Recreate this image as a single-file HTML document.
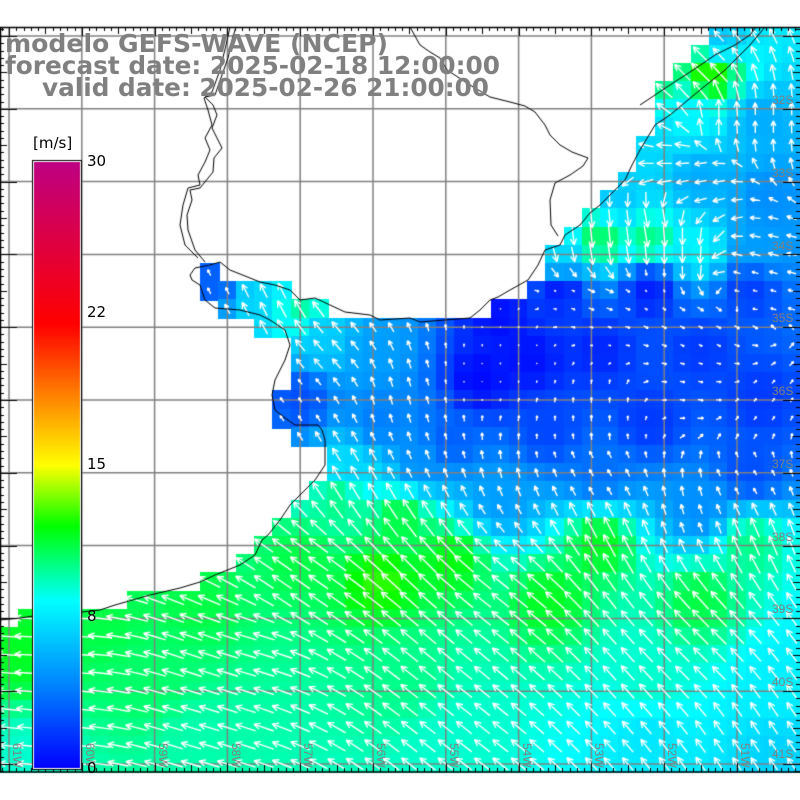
<!DOCTYPE html>
<html><head><meta charset="utf-8"><style>
html,body{margin:0;padding:0;background:#fff;}
#wrap{position:relative;width:800px;height:800px;overflow:hidden;}
canvas,svg{position:absolute;left:0;top:0;}
</style></head><body><div id="wrap">
<canvas id="c" width="800" height="800"></canvas>
<svg width="800" height="800" xmlns="http://www.w3.org/2000/svg" style="font-family:'Liberation Sans',sans-serif">
<g fill="#808080" font-size="12">
<text x="772" y="104">32S</text><text x="772" y="177">33S</text><text x="772" y="250">34S</text>
<text x="772" y="322">35S</text><text x="772" y="395">36S</text><text x="772" y="468">37S</text>
<text x="772" y="541">38S</text><text x="772" y="613">39S</text><text x="772" y="686">40S</text>
<text x="772" y="758">41S</text>
<text transform="translate(13,743) rotate(90)">61W</text>
<text transform="translate(86,743) rotate(90)">60W</text>
<text transform="translate(159,743) rotate(90)">59W</text>
<text transform="translate(232,743) rotate(90)">58W</text>
<text transform="translate(304,743) rotate(90)">57W</text>
<text transform="translate(377,743) rotate(90)">56W</text>
<text transform="translate(450,743) rotate(90)">55W</text>
<text transform="translate(523,743) rotate(90)">54W</text>
<text transform="translate(595,743) rotate(90)">53W</text>
<text transform="translate(668,743) rotate(90)">52W</text>
<text transform="translate(741,743) rotate(90)">51W</text>
</g>
<g fill="#808080" font-weight="bold" font-size="25" style="font-family:'DejaVu Sans','Liberation Sans',sans-serif">
<text x="5" y="52" textLength="383" lengthAdjust="spacingAndGlyphs">modelo GEFS-WAVE (NCEP)</text>
<text x="5" y="74" textLength="495" lengthAdjust="spacingAndGlyphs">forecast date: 2025-02-18 12:00:00</text>
<text x="42" y="96" textLength="447" lengthAdjust="spacingAndGlyphs">valid date: 2025-02-26 21:00:00</text>
</g>
<g fill="#000" font-size="15" style="font-family:'DejaVu Sans','Liberation Sans',sans-serif">
<text x="33" y="148">[m/s]</text>
<text x="87" y="166">30</text><text x="87" y="317">22</text><text x="87" y="469">15</text>
<text x="87" y="621">8</text><text x="87" y="773">0</text>
</g>
</svg>
</div>
<script>
const cv=document.getElementById('c'),g=cv.getContext('2d');
g.fillStyle='#fff';g.fillRect(0,0,800,800);
const stops=[[0,0,0,255],[4,0,128,255],[8.3,0,255,255],[12,0,255,0],[15,255,255,0],[18.5,255,128,0],[22,255,0,0],[30,190,0,130]];
function cmap(s){if(s<=0)return[0,0,255];for(let i=1;i<stops.length;i++){if(s<=stops[i][0]){const a=stops[i-1],b=stops[i],t=(s-a[0])/(b[0]-a[0]);return[0,1,2].map(k=>Math.round(a[k+1]+(b[k+1]-a[k+1])*t));}}return[190,0,130];}
const SP=[[720,40,6.5],[710,75,12.5],[660,80,10],[690,110,8],[650,140,7],[760,120,5.5],[770,200,4.5],[700,180,5.5],[620,200,6.5],[600,240,10.5],[650,240,10],[700,250,8],[760,250,5],[560,260,7],
[560,290,1],[650,290,1],[750,290,2],[500,320,0.5],[530,360,0.5],[480,380,0.3],[600,350,1.2],[700,350,1.8],[760,400,1.8],[650,420,1.8],[550,430,2.2],[450,440,3],[380,420,4],[300,400,2.5],[320,340,6.5],[380,350,5],[260,300,7],[300,310,9.5],[215,280,3],
[420,460,4.5],[350,470,7],[600,470,3.5],[750,470,2.5],[500,500,5],[700,510,4.5],[340,500,10],[400,520,11],
[450,560,11.8],[300,560,11],[600,545,11.5],[750,545,10],[380,580,12.5],[550,600,11.5],[700,600,11],[200,600,11],[100,620,11],[20,650,11.5],
[150,680,10.5],[400,680,10],[650,680,9],[780,680,7.8],[200,740,9.5],[450,740,9],[650,740,7.5],[780,760,6.8],[30,760,9]];
const DR=[[50,650,-1,-0.05],[50,750,-1,-0.1],[250,650,-1,-0.3],[300,580,-1,-0.7],[500,600,-1,-0.8],[700,650,-0.8,-0.8],[750,740,-0.6,-0.9],[450,740,-0.9,-0.7],[200,740,-1,-0.3],
[350,460,-0.6,-1],[400,400,-0.3,-1],[330,350,-0.7,-0.8],[260,290,-0.5,-1],[600,470,-0.6,-1],[750,470,-0.6,-1],[600,420,0,-1],[750,420,0.6,-0.8],[520,380,0.3,-1],
[700,330,1,0.6],[600,310,0.8,0.3],[700,390,1,0.2],[600,230,0.1,1],[680,250,0,1],[750,270,-1,-0.3],[770,120,0,-1],[720,120,0,-1],[700,180,-1,0.2],[660,160,-1,0],[640,120,-0.8,-0.6],[700,70,-0.7,-0.7],[650,220,0.2,1]];
function idw(x,y,P,p,f){let ws=0,acc=f.map(()=>0);for(const q of P){const d2=(q[0]-x)**2+(q[1]-y)**2+1;const w=1/Math.pow(d2,p/2);ws+=w;f.forEach((k,i)=>acc[i]+=w*q[k]);}return acc.map(a=>a/ws);}
const left={0:708,1:690,2:673,3:655,4:655,5:655,6:636,7:636,8:618,9:600,10:582,11:563,12:545,13:545,14:527,15:491,16:255,17:291,18:291,19:291,20:273,21:273,22:291,23:327,24:327,25:310,26:291,27:273,28:255,29:236,30:200,31:127,32:18};
function isSea(j,k,cx,cy){let L=(k in left)?left[k]:0;if(cx>=L-1)return true;
 if(k==13&&cx>=198&&cx<220)return true;
 if(k==14&&cx>=198&&cx<292)return true;
 if(k==15&&cx>=216&&cx<328)return true;return false;}
const C=18.2;
const cells=[];
for(let k=0;k<=40;k++){const cy=36+C*k;for(let j=0;j<=43;j++){const cx=9+C*j;
 if(!isSea(j,k,cx,cy))continue;
 const s=idw(cx,cy,SP,3,[2])[0];const col=cmap(s);
 g.fillStyle=`rgb(${col})`;
 const y0=Math.max(27,cy-C/2),y1=Math.min(772,cy+C/2);
 g.fillRect(Math.floor(cx-C/2),Math.floor(y0),Math.ceil(C)+1,Math.ceil(y1-y0)+1);
 cells.push([cx,cy,s]);}}
g.strokeStyle='#808080';g.lineWidth=1.5;
for(let i=0;i<11;i++){const x=9+72.8*i;g.beginPath();g.moveTo(x,27);g.lineTo(x,772);g.stroke();}
for(let i=0;i<11;i++){const y=36+72.8*i;g.beginPath();g.moveTo(0,y);g.lineTo(800,y);g.stroke();}
g.strokeStyle='#fff';g.lineWidth=1.4;
for(const [cx,cy,s] of cells){let [u,v]=idw(cx,cy,DR,3,[2,3]);const n=Math.hypot(u,v)||1;u/=n;v/=n;
 const L=Math.min(26,s*2.2);const hx=cx+u*L/2,hy=cy+v*L/2,tx=cx-u*L/2,ty=cy-v*L/2;
 g.beginPath();g.moveTo(tx,ty);g.lineTo(hx,hy);
 const hl=Math.min(7,L*0.45);
 for(const a of [0.45,-0.45]){const ca=Math.cos(a),sa=Math.sin(a);const bx=-(u*ca-v*sa),by=-(u*sa+v*ca);g.moveTo(hx,hy);g.lineTo(hx+bx*hl,hy+by*hl);}
 g.stroke();}
function poly(pts){g.beginPath();g.moveTo(pts[0],pts[1]);for(let i=2;i<pts.length;i+=2)g.lineTo(pts[i],pts[i+1]);g.stroke();}
g.strokeStyle='#000';g.lineWidth=1;
poly([765,27,750,45,725,70,700,90,670,115,655,125,640,150,632,165,625,180,615,190,600,205,590,213,580,225,565,235,560,245,545,250,538,265,528,280,510,290,498,297,490,300,480,310,470,318,445,320,420,322,410,318,380,320,370,315,345,312,330,305,315,298,300,300,290,290,275,285,260,282,245,276,230,270,220,262,210,265,195,268,190,275,192,280,200,285,205,300,215,308,240,310,260,315,270,320,285,330,290,345,285,360,275,380,272,395,275,410,285,418,295,425,318,425,322,430,325,440,325,465,315,480,300,495,290,505,280,520,268,535,262,540,255,555,240,565,215,575,200,582,180,588,150,595,115,605,100,610,82,612,60,612,40,615,20,618,0,620]);
poly([410,27,420,45,430,52,440,58,447,70,470,85,490,97,510,102,525,106,535,112,545,125,550,135,560,145,572,152,588,158,583,166,570,175,555,183,550,200,551,225,558,236]);
poly([236,27,232,40,228,58,222,75,215,95,205,97,213,105,217,115,212,128,218,140,222,148,214,158,213,172,200,188,190,190,192,200,187,215,188,230,195,250,205,262]);
poly([230,27,226,45,220,70,212,92,204,98,208,110,212,125,205,138,210,150,205,162,198,175,200,185,188,188,183,205,180,225,185,245,198,258]);
poly([640,105,655,95,670,85,690,72,705,62,715,55,735,45,750,35,756,27]);
g.strokeStyle='#000';g.lineWidth=1.5;
g.beginPath();g.moveTo(0,27.5);g.lineTo(800,27.5);g.moveTo(0,772);g.lineTo(800,772);g.moveTo(0.5,27);g.lineTo(0.5,772);g.stroke();
g.lineWidth=1;g.beginPath();
for(let i=0;;i++){const x=9+7.28*(i-1);if(x>800)break;if(x<0)continue;const m=(i-1)%10==0?9:((i-1)%5==0?7:4);g.moveTo(Math.round(x)+0.5,27);g.lineTo(Math.round(x)+0.5,27+m);g.moveTo(Math.round(x)+0.5,772);g.lineTo(Math.round(x)+0.5,772-m);}
for(let i=0;;i++){const y=36+7.28*(i-1);if(y>772)break;if(y<27)continue;const m=(i-1)%10==0?17:((i-1)%5==0?7:4);g.moveTo(0,Math.round(y)+0.5);g.lineTo(m,Math.round(y)+0.5);g.moveTo(800,Math.round(y)+0.5);g.lineTo(800-m,Math.round(y)+0.5);}
g.stroke();
g.fillStyle='#000';g.fillRect(32,160,50,610);g.fillStyle='#fff';g.fillRect(33,161,48,608);
for(let y=162;y<768;y++){const s=(768-y)/(768-162)*30;g.fillStyle=`rgb(${cmap(s)})`;g.fillRect(34,y,46,1);}
</script>
</body></html>
